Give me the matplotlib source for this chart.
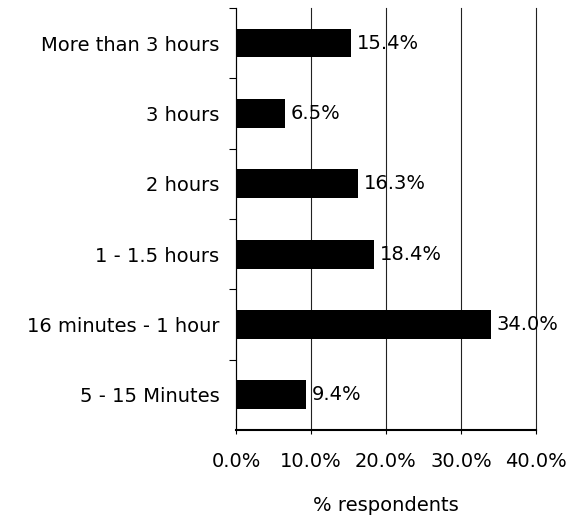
import matplotlib
import matplotlib.pyplot as plt
import numpy as np

matplotlib.use("Agg")
plt.rcParams["font.family"] = ["DejaVu Sans"]
FS = 14

# Time spent per session, share of respondents (%)
categories = ["More than 3 hours", "3 hours", "2 hours", "1 - 1.5 hours",
              "16 minutes - 1 hour", "5 - 15 Minutes"]
values = [15.4, 6.5, 16.3, 18.4, 34.0, 9.4]
xticks = [0, 10, 20, 30, 40]

fig = plt.figure(figsize=(5.68, 5.25), dpi=100)
ax = fig.add_axes([0.4155, 0.181, 0.528, 0.804])

y = np.arange(len(categories))
ax.barh(y, values, height=0.41, color="black", zorder=3)
for yi, v in zip(y, values):
    ax.annotate(f"{v:.1f}%", (v, yi), xytext=(4, 0), textcoords="offset points",
                va="center", ha="left", fontsize=FS, zorder=4)

ax.set_ylim(len(categories) - 0.5, -0.5)
ax.set_xlim(0, 40)
ax.set_yticks(y)
ax.set_yticklabels(categories, fontsize=FS)
ax.tick_params(axis="y", which="major", length=0, pad=12)
ax.set_yticks(np.arange(-0.5, len(categories) - 0.5), minor=True)
ax.tick_params(axis="y", which="minor", length=5, width=0.8, direction="out")

ax.set_xticks(xticks)
ax.set_xticklabels([f"{t:.1f}%" for t in xticks], fontsize=FS)
ax.tick_params(axis="x", length=3, width=0.8, pad=13)
ax.set_xlabel("% respondents", fontsize=FS, labelpad=18)

ax.xaxis.grid(True, color="#222222", lw=0.8, zorder=0)
for gl in ax.get_xgridlines():
    gl.set_clip_on(False)
for s in ["top", "right"]:
    ax.spines[s].set_visible(False)
ax.spines["left"].set_linewidth(0.8)
ax.spines["bottom"].set_linewidth(1.5)

fig.savefig("out.png", dpi=100)
